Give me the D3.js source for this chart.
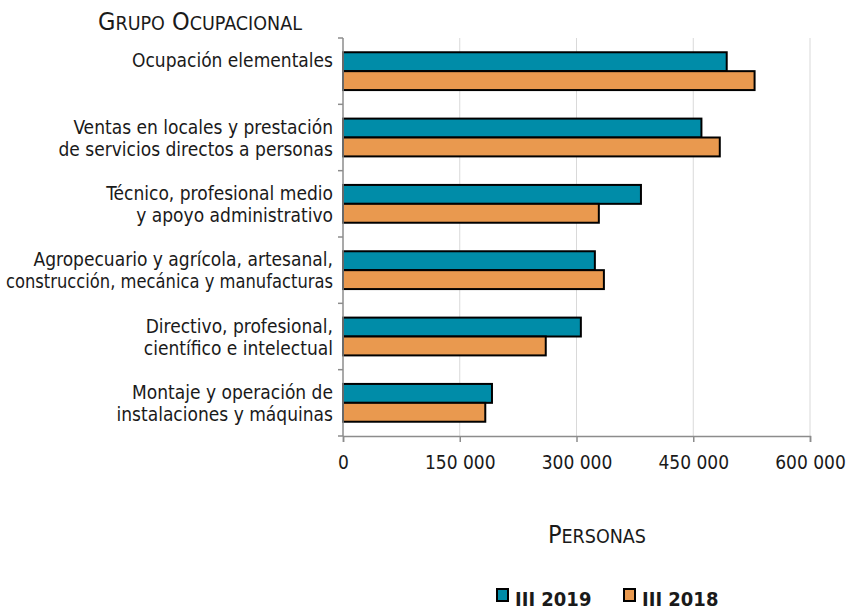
<!DOCTYPE html>
<html>
<head>
<meta charset="utf-8">
<script src="https://cdn.jsdelivr.net/npm/d3@7.9.0/dist/d3.min.js"></script>
<style>
  body { margin: 0; background: #fff; }
  text { font-family: "DejaVu Sans Condensed", "Liberation Sans Narrow", sans-serif; fill: #1a1a1a; }
</style>
</head>
<body>
<svg id="chart" width="848" height="612"></svg>
<script>
const categories = [
  ["Ocupación elementales", ""],
  ["Ventas en locales y prestación", "de servicios directos a personas"],
  ["Técnico, profesional medio", "y apoyo administrativo"],
  ["Agropecuario y agrícola, artesanal,", "construcción, mecánica y manufacturas"],
  ["Directivo, profesional,", "científico e intelectual"],
  ["Montaje y operación de", "instalaciones y máquinas"]
];
const seriesNames = ["III 2019", "III 2018"];
const values2019 = [493000, 460500, 382800, 323600, 305600, 191400];
const values2018 = [528800, 484100, 328700, 335200, 260500, 182800];
const xTicks = [0, 150000, 300000, 450000, 600000];
const colors = ["#008ca8", "#e9994f"];

const svg = d3.select("#chart");
const margin = { top: 38, left: 343, right: 38, bottom: 176 };
const width = 848 - margin.left - margin.right;
const height = 612 - margin.top - margin.bottom;
const g = svg.append("g").attr("transform", `translate(${margin.left},${margin.top})`);

const x = d3.scaleLinear().domain([0, 600000]).range([0, width]);
const y = d3.scaleBand().domain(d3.range(categories.length)).range([0, height]).paddingInner(0.43).paddingOuter(0.215);
const sub = d3.scaleBand().domain([0, 1]).range([0, y.bandwidth()]);

// gridlines
g.selectAll(".grid")
  .data(xTicks.slice(1))
  .enter().append("line")
  .attr("x1", d => x(d)).attr("x2", d => x(d))
  .attr("y1", 0).attr("y2", height)
  .attr("stroke", "#d9d9d9").attr("stroke-width", 1);

// bars
const rows = categories.map((c, i) => ({ i, vals: [values2019[i], values2018[i]] }));
const grp = g.selectAll(".grp").data(rows).enter().append("g")
  .attr("transform", d => `translate(0,${y(d.i)})`);
grp.selectAll("rect")
  .data(d => d.vals.map((v, k) => ({ v, k })))
  .enter().append("rect")
  .attr("x", 0)
  .attr("y", d => sub(d.k))
  .attr("width", d => x(d.v))
  .attr("height", sub.bandwidth())
  .attr("fill", d => colors[d.k])
  .attr("stroke", "#000").attr("stroke-width", 2);

// y axis
g.append("line").attr("x1", 0).attr("x2", 0).attr("y1", 0).attr("y2", height)
  .attr("stroke", "#8c8c8c").attr("stroke-width", 1.5);
g.selectAll(".ytick").data(d3.range(categories.length + 1)).enter().append("line")
  .attr("x1", -5).attr("x2", 0)
  .attr("y1", d => d * height / categories.length).attr("y2", d => d * height / categories.length)
  .attr("stroke", "#8c8c8c").attr("stroke-width", 1.5);

g.selectAll(".ylabel").data(categories).enter().append("text")
  .attr("text-anchor", "end")
  .attr("font-size", 19)
  .each(function (d, i) {
    const cy = y(i) + y.bandwidth() / 2;
    const t = d3.select(this);
    d.forEach((line, k) => {
      const ts = t.append("tspan").attr("x", -10).attr("y", cy + (k === 0 ? -4 : 18)).text(line);
      // squeeze lines that would run past the left edge
      const maxW = margin.left - 16;
      if (line && ts.node().getComputedTextLength() > maxW) {
        ts.attr("textLength", maxW).attr("lengthAdjust", "spacingAndGlyphs");
      }
    });
  });

// x axis
const xAxis = g.append("g").attr("transform", `translate(0,${height})`)
  .call(d3.axisBottom(x).tickValues(xTicks).tickSize(6).tickPadding(14)
    .tickFormat(d => d3.format(",")(d).replace(/,/g, " ")));
xAxis.select(".domain").attr("stroke", "#8c8c8c").attr("stroke-width", 1.5);
xAxis.selectAll(".tick line").attr("stroke", "#8c8c8c").attr("stroke-width", 1.5);
xAxis.selectAll("text").attr("font-size", 19).attr("fill", "#1a1a1a")
  .style("font-family", "'DejaVu Sans Condensed', sans-serif");

// small caps by hand: first letter of each word large, rest smaller capitals
function smallCaps(sel, str, big, small) {
  str.split(" ").forEach((w, i) => {
    sel.append("tspan").attr("font-size", big).text((i ? " " : "") + w[0].toUpperCase());
    sel.append("tspan").attr("font-size", small).text(w.slice(1).toUpperCase());
  });
}
smallCaps(svg.append("text").attr("x", 98).attr("y", 30), "Grupo Ocupacional", 25, 19.5);
smallCaps(svg.append("text").attr("x", 597).attr("y", 543).attr("text-anchor", "middle"), "Personas", 25, 19.5);

// legend
const legend = svg.append("g");
const legX = [497, 624];
seriesNames.forEach((name, k) => {
  legend.append("rect").attr("x", legX[k]).attr("y", 589).attr("width", 11).attr("height", 12)
    .attr("fill", colors[k]).attr("stroke", "#000").attr("stroke-width", 2);
  legend.append("text").attr("x", legX[k] + 18).attr("y", 606).attr("font-size", 20)
    .attr("font-weight", "bold").text(name);
});
</script>
</body>
</html>
